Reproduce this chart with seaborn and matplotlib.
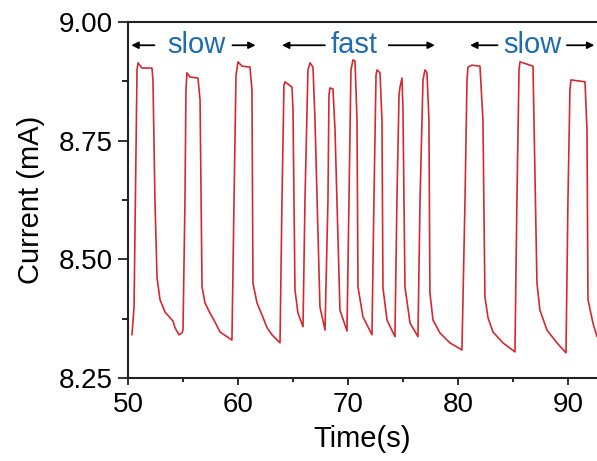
import pandas as pd
import matplotlib
matplotlib.use("Agg")
import matplotlib.pyplot as plt
import seaborn as sns

# traced current vs time
time_s = [
    50.36, 50.55, 50.82, 50.91, 51.27, 52.18, 52.27, 52.45, 52.64, 52.91, 53.36, 54.09, 54.27, 54.64, 54.91, 55.00,
    55.18, 55.27, 55.36, 55.64, 56.36, 56.55, 56.73, 57.00, 57.45, 57.91, 58.36, 59.45,
    59.64, 59.82, 60.00, 60.36, 61.09, 61.27, 61.36, 61.73, 62.18, 62.64, 63.09, 63.82,
    64.00, 64.18, 64.27, 64.91, 65.00, 65.18, 65.45, 65.91,
    66.09, 66.36, 66.55, 66.82, 67.00, 67.45, 67.91,
    68.18, 68.27, 68.36, 68.64, 68.82, 69.27, 69.91,
    70.09, 70.27, 70.45, 70.64, 70.82, 70.91, 71.36, 72.18,
    72.36, 72.55, 72.64, 72.91, 73.09, 73.18, 73.55, 74.27,
    74.45, 74.64, 74.73, 74.91, 75.00, 75.18, 75.64, 76.36,
    76.55, 76.82, 77.00, 77.18, 77.36, 77.45, 77.73, 78.36, 79.27, 80.36,
    80.64, 80.82, 80.91, 81.27, 82.00, 82.27, 82.45, 82.73, 83.18, 84.09, 85.18,
    85.36, 85.55, 85.64, 85.91, 86.82, 86.91, 87.18, 87.45, 88.09, 89.00, 89.82,
    90.00, 90.18, 90.27, 91.55, 91.73, 91.82, 92.27, 92.64,
]
current_ma = [
    8.341, 8.400, 8.899, 8.914, 8.903, 8.903, 8.878, 8.625, 8.461, 8.415, 8.389, 8.370, 8.356, 8.341, 8.345, 8.351,
    8.625, 8.857, 8.893, 8.884, 8.882, 8.836, 8.442, 8.408, 8.387, 8.368, 8.347, 8.330,
    8.625, 8.888, 8.916, 8.907, 8.905, 8.857, 8.450, 8.408, 8.383, 8.356, 8.341, 8.324,
    8.625, 8.867, 8.874, 8.863, 8.815, 8.436, 8.387, 8.358,
    8.625, 8.899, 8.914, 8.905, 8.794, 8.400, 8.351,
    8.625, 8.846, 8.861, 8.859, 8.773, 8.393, 8.349,
    8.625, 8.899, 8.920, 8.918, 8.794, 8.442, 8.379, 8.341,
    8.625, 8.888, 8.899, 8.893, 8.794, 8.440, 8.372, 8.337,
    8.625, 8.846, 8.863, 8.882, 8.815, 8.442, 8.366, 8.337,
    8.625, 8.878, 8.899, 8.893, 8.794, 8.429, 8.372, 8.345, 8.324, 8.309,
    8.625, 8.878, 8.905, 8.909, 8.907, 8.794, 8.421, 8.377, 8.347, 8.324, 8.305,
    8.625, 8.899, 8.916, 8.914, 8.907, 8.794, 8.450, 8.393, 8.351, 8.324, 8.303,
    8.625, 8.857, 8.878, 8.874, 8.773, 8.415, 8.366, 8.337,
]

# regime labels: text centre, left arrow (tail, head), right arrow (tail, head)
regime_labels = ["slow", "fast", "slow"]
regime_centers = [56.2, 70.6, 86.8]
left_arrows = [(52.4, 50.3), (67.9, 64.0), (83.6, 81.1)]
right_arrows = [(59.5, 61.6), (73.7, 77.9), (89.9, 92.4)]
label_y = 8.951

df = pd.DataFrame({"t": time_s, "I": current_ma})

sns.set_theme(style="ticks")
plt.rcParams["font.family"] = ["Liberation Sans", "DejaVu Sans"]
plt.rcParams["text.color"] = "black"
plt.rcParams["axes.labelcolor"] = "black"
plt.rcParams["xtick.color"] = "black"
plt.rcParams["ytick.color"] = "black"

fig = plt.figure(figsize=(5.97, 4.61), dpi=100)
ax = fig.add_axes([128 / 597, 83 / 461, 1 - 128 / 597, 356 / 461])

sns.lineplot(data=df, x="t", y="I", sort=False, estimator=None,
             color="#d42a2f", linewidth=1.2, ax=ax)

for lab, cx, la, ra in zip(regime_labels, regime_centers, left_arrows, right_arrows):
    ax.text(cx, label_y, lab, color="#1f6db0", fontsize=21, ha="center", va="center")
    for tail, head in (la, ra):
        ax.annotate("", xy=(head, label_y), xytext=(tail, label_y),
                    arrowprops=dict(arrowstyle="-|>", color="black", lw=1.3,
                                    mutation_scale=10, shrinkA=0, shrinkB=0))

ax.set_xlim(50, 92.64)
ax.set_ylim(8.25, 9.00)
ax.set_xticks([50, 60, 70, 80, 90])
ax.set_xticks([55, 65, 75, 85], minor=True)
ax.set_yticks([8.25, 8.50, 8.75, 9.00])
ax.set_yticks([8.375, 8.625, 8.875], minor=True)
ax.set_yticklabels(["8.25", "8.50", "8.75", "9.00"])
ax.set_xlabel("Time(s)", fontsize=21, labelpad=5)
ax.set_ylabel("Current (mA)", fontsize=21, labelpad=10)
ax.tick_params(axis="both", which="major", labelsize=20, width=1.3, color="#222222")
ax.tick_params(axis="y", which="major", length=7, direction="out", pad=4)
ax.tick_params(axis="y", which="minor", length=4, width=1.2, direction="out")
ax.tick_params(axis="x", which="major", length=5, direction="out", pad=5)
ax.tick_params(axis="x", which="minor", length=3, width=1.2, direction="out")
ax.spines["right"].set_visible(False)
for s in ("left", "bottom", "top"):
    ax.spines[s].set_linewidth(1.5)
    ax.spines[s].set_color("#222222")

fig.savefig("out.png", dpi=100)
plt.close(fig)
